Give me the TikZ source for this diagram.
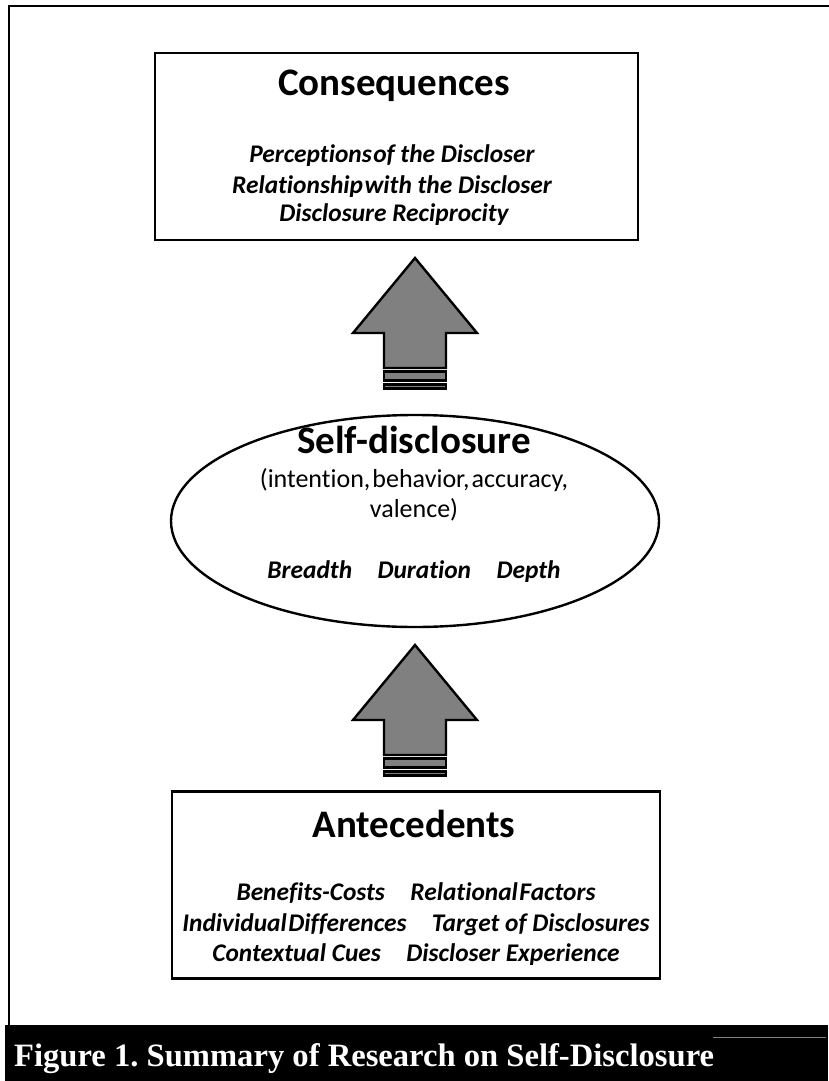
\documentclass[tikz,border=0pt]{standalone}
\usepackage{fontspec}
\setmainfont{Carlito}[Ligatures={NoCommon}]
\newfontfamily\capfont{Liberation Serif}
\usetikzlibrary{shapes.geometric}
\definecolor{arrowgray}{gray}{0.5}
\frenchspacing
\tikzset{
  panel/.style={draw, line width=2.6pt, minimum width=483pt, minimum height=187pt, inner sep=0pt},
  heading/.style={font=\fontsize{39}{42}\selectfont\bfseries, anchor=base},
  itemline/.style={font=\fontsize{25.4}{29}\selectfont\bfseries\itshape, anchor=base},
  plainline/.style={font=\fontsize{26}{29}\selectfont, anchor=base},
  blockarrow/.pic={
    \draw[line width=2.4pt, fill=arrowgray, line join=miter]
      (-31,0) -- (-31,-35) -- (-62,-35) -- (0,-110) -- (62,-35) -- (31,-35) -- (31,0) -- cycle;
    \draw[line width=2.6pt, fill=arrowgray] (-31,3.5) rectangle (31,12.5);
    \fill (-32.3,14.5) rectangle (32.3,21.5);
    \draw[arrowgray, line width=0.6pt] (-30,18) -- (30,18);
  }
}
\begin{document}
\begin{tikzpicture}[x=1pt, y=-1pt]
\useasboundingbox (0,0) rectangle (828,1081);

% page frame
\draw[line width=2.5pt] (9,1026) -- (9,6) -- (850,6);

% consequences box
\node[panel, minimum width=483pt] (cons) at (396.5,146.5) {};
\node[heading] (consT) at (394,95) {Consequences};
\node[itemline] (c1) at (392,162) {Perceptions\hspace{0.06em}of the Discloser};
\node[itemline] (c2) at (392,193) {Relationship\hspace{0.06em}with the Discloser};
\node[itemline] (c3) at (394,221) {Disclosure Reciprocity};

% self-disclosure ellipse
\node[ellipse, draw, line width=2.4pt, minimum width=488pt, minimum height=212pt, inner sep=0pt] (self) at (415,521) {};
\node[heading] (selfT) at (414,453) {Self-disclosure};
\node[plainline] (s1) at (414,487) {(intention,\hspace{0.08em}behavior,\hspace{0.08em}accuracy,};
\node[plainline] (s2) at (414,517) {valence)};
\node[itemline] (s3) at (414,578) {Breadth\hspace{1em}Duration\hspace{1em}Depth};

% antecedents box
\node[panel, minimum width=488pt] (ante) at (416,885) {};
\node[heading] (anteT) at (414,837) {Antecedents};
\node[itemline] (a1) at (416,900) {Benefits-Costs\hspace{1em}Relational\hspace{0.06em}Factors};
\node[itemline] (a2) at (416,931) {Individual\hspace{0.06em}Differences\hspace{1em}Target of Disclosures};
\node[itemline] (a3) at (416,961) {Contextual Cues\hspace{1em}Discloser Experience};

% block arrows
\coordinate (arrowA) at (415,368);
\coordinate (arrowB) at (415,755);
\pic at (arrowA) {blockarrow};
\pic at (arrowB) {blockarrow};

% caption bar
\fill (5,1025) rectangle (828,1081);
\draw[gray, line width=0.8pt] (713,1037) -- (826,1037);
\node[anchor=base west, text=white, inner sep=0pt, font=\capfont\fontsize{32.6}{34}\selectfont\bfseries] (cap) at (14,1066) {Figure 1. Summary of Research on Self-Disclosure};
\end{tikzpicture}
\end{document}
